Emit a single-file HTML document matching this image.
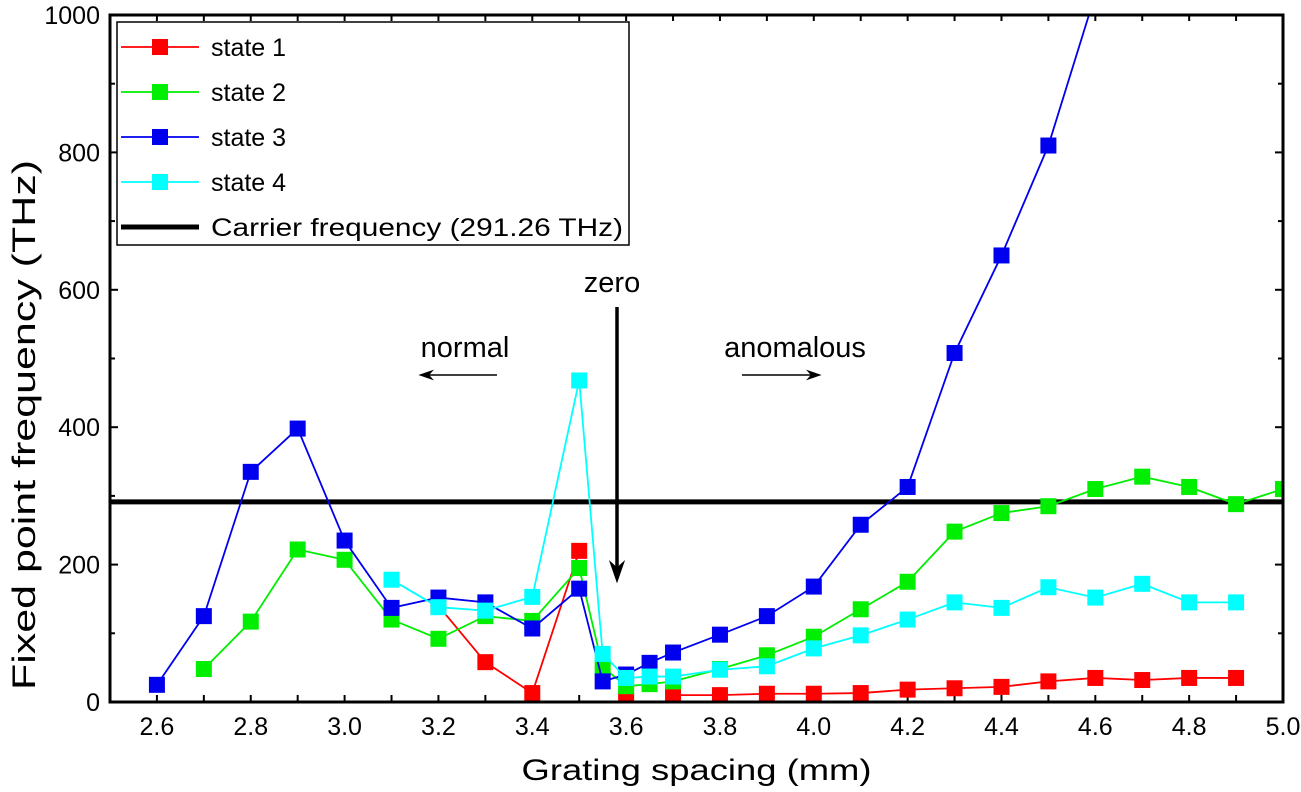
<!DOCTYPE html>
<html><head><meta charset="utf-8"><style>
html,body{margin:0;padding:0;background:#fff;}
svg{display:block;font-family:"Liberation Sans",Arial,sans-serif;}
</style></head><body>
<svg id="chart" width="1301" height="792" viewBox="0 0 1301 792"></svg>
<script>
const xs = [2.6,2.7,2.8,2.9,3.0,3.1,3.2,3.3,3.4,3.5,3.55,3.6,3.65,3.7,3.8,3.9,4.0,4.1,4.2,4.3,4.4,4.5,4.6,4.7,4.8,4.9,5.0];
const state1 = [null,null,null,null,null,null,140,58,13,220,null,4,null,10,10,12,12,13,18,20,22,30,35,32,35,35,null];
const state2 = [null,48,117,222,207,120,92,125,118,195,51,23,26,30,48,68,95,135,175,248,275,285,310,328,313,288,310];
const state3 = [25,125,335,398,235,137,152,145,107,165,30,40,57,72,98,125,168,258,313,508,650,810,1030,null,null,null,null];
const state4 = [null,null,null,null,null,178,138,133,153,468,70,35,37,37,47,52,78,97,120,145,137,167,152,172,145,145,null];
const carrier = 291.26;
const xTicks = ["2.6","2.8","3.0","3.2","3.4","3.6","3.8","4.0","4.2","4.4","4.6","4.8","5.0"];
const yTicks = ["0","200","400","600","800","1000"];

const NS="http://www.w3.org/2000/svg";
const svg=document.getElementById('chart');
const L=110,R=1283,T=15,B=702,X0=2.5,X1=5.0,Y0=0,Y1=1000;
const sx=v=>L+(v-X0)/(X1-X0)*(R-L);
const sy=v=>B-(v-Y0)/(Y1-Y0)*(B-T);
function el(tag,attrs,parent){const e=document.createElementNS(NS,tag);for(const k in attrs)e.setAttribute(k,attrs[k]);(parent||svg).appendChild(e);return e;}

const defs=el('defs',{});
const cp=el('clipPath',{id:'clip'},defs);
el('rect',{x:L,y:T,width:R-L,height:B-T},cp);

// ticks
for(let i=0;i<=25;i++){const v=2.5+i*0.1;const x=sx(v);
 const t=el('line',{x1:x,x2:x,y1:B,y2:B-7,stroke:'#000','stroke-width':2});
 
 
 const t2=el('line',{x1:x,x2:x,y1:T,y2:T+6,stroke:'#000','stroke-width':2});
 
 }
for(let i=0;i<=10;i++){const y=sy(i*100);
 const t=el('line',{x1:L,x2:L+(i%2==0?8:5),y1:y,y2:y,stroke:'#000','stroke-width':2});
 
 
 const t2=el('line',{x1:R,x2:R-(i%2==0?8:5),y1:y,y2:y,stroke:'#000','stroke-width':2});
 
 }
xTicks.forEach(s=>{const t=el('text',{x:sx(parseFloat(s)),y:B+33,'font-size':25,'text-anchor':'middle'});t.textContent=s;
 
 });
yTicks.forEach(s=>{const t=el('text',{x:L-10,y:sy(parseFloat(s))+9,'font-size':25,'text-anchor':'end'});t.textContent=s;
 
 });
let t=el('text',{x:(L+R)/2,y:780,'font-size':30,'text-anchor':'middle',textLength:350,lengthAdjust:'spacingAndGlyphs'});t.textContent='Grating spacing (mm)';


t=el('text',{x:0,y:0,'font-size':32,'text-anchor':'middle',textLength:530,lengthAdjust:'spacingAndGlyphs',transform:`translate(35,425) rotate(-90)`});t.textContent='Fixed point frequency (THz)';



// carrier
const cl=el('line',{x1:L,x2:R,y1:sy(carrier),y2:sy(carrier),stroke:'#000','stroke-width':5});



const g=el('g',{'clip-path':'url(#clip)'});
function series(arr,color,name){
 let d='',pen=false;
 arr.forEach((v,i)=>{if(v==null){pen=false;return;}d+=(pen?'L':'M')+sx(xs[i])+','+sy(v)+' ';pen=true;});
 const p=el('path',{d:d,fill:'none',stroke:color,'stroke-width':1.8},g);
 
 
 arr.forEach((v,i)=>{if(v==null)return;
  const m=el('rect',{x:sx(xs[i])-8,y:sy(v)-8,width:16,height:16,fill:color},g);
  
  });
}
series(state1,'#ff0000','state-1');
series(state2,'#00ee00','state-2');
series(state3,'#0000ee','state-3');
series(state4,'#00ffff','state-4');

// frame
const fr=el('rect',{x:L,y:T,width:R-L,height:B-T,fill:'none',stroke:'#000','stroke-width':3});



// annotations
function arrow(x1,y1,x2,y2,w,hs,name){
 const a=el('line',{x1:x1,y1:y1,x2:x2,y2:y2,stroke:'#000','stroke-width':w});
 
 
 const ang=Math.atan2(y2-y1,x2-x1),c=Math.cos(ang),s=Math.sin(ang);
 const p=`${x2+c*hs*0.3},${y2+s*hs*0.3} ${x2-c*hs+s*hs*0.45},${y2-s*hs-c*hs*0.45} ${x2-c*hs*0.6},${y2-s*hs*0.6} ${x2-c*hs-s*hs*0.45},${y2-s*hs+c*hs*0.45}`;
 const h=el('polygon',{points:p,fill:'#000'});
 
 
}
t=el('text',{x:612,y:292,'font-size':29,'text-anchor':'middle'});t.textContent='zero';


arrow(617,307,617,578,3.5,18,'zero-arrow');
t=el('text',{x:465,y:357,'font-size':29,'text-anchor':'middle'});t.textContent='normal';


arrow(497,375,422,375,1.5,12,'normal-arrow');
t=el('text',{x:795,y:357,'font-size':29,'text-anchor':'middle'});t.textContent='anomalous';


arrow(742,375,818,375,1.5,12,'anomalous-arrow');

// legend
const lg=el('g',{});


el('rect',{x:117,y:22,width:512,height:223,fill:'#fff',stroke:'#000','stroke-width':1.5},lg);
const entries=[['state 1','#ff0000',true],['state 2','#00ee00',true],['state 3','#0000ee',true],['state 4','#00ffff',true],['Carrier frequency (291.26 THz)','#000',false]];
entries.forEach((e,i)=>{const y=47+i*45;
 const eg=el('g',{},lg);
 
 
 el('line',{x1:121,x2:199,y1:y,y2:y,stroke:e[1],'stroke-width':e[2]?1.8:5},eg);
 if(e[2])el('rect',{x:152,y:y-8,width:16,height:16,fill:e[1]},eg);
 const tx=el('text',{x:211,y:y+9,'font-size':25},eg);tx.textContent=e[0];
 if(!e[2]){tx.setAttribute('textLength',412);tx.setAttribute('lengthAdjust','spacingAndGlyphs');}});
</script>
</body></html>
